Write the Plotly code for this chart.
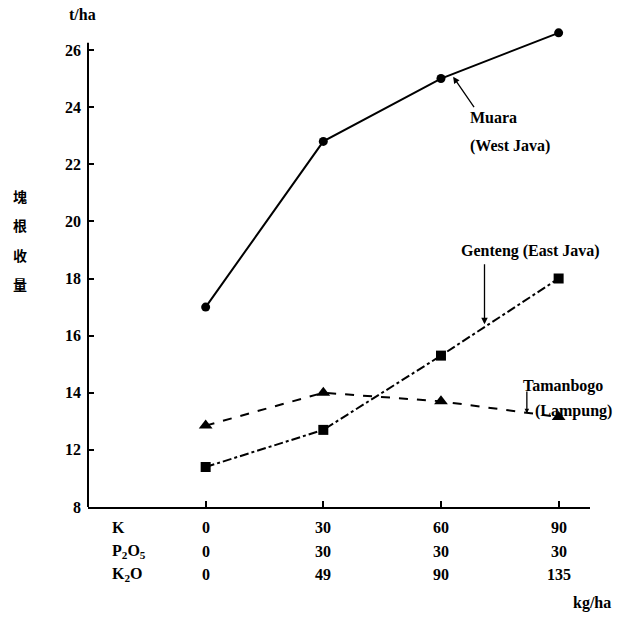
import plotly.graph_objects as go

# Data
K = [0, 30, 60, 90]
P2O5 = ["0", "30", "30", "30"]
K2O = ["0", "49", "90", "135"]
K_labels = ["0", "30", "60", "90"]
muara = [17.0, 22.8, 25.0, 26.6]
genteng = [11.4, 12.7, 15.3, 18.0]
tamanbogo = [12.85, 14.0, 13.7, 13.15]
y_tickvals = [10, 12, 14, 16, 18, 20, 22, 24, 26]
y_ticktext = ["8", "12", "14", "16", "18", "20", "22", "24", "26"]
ylabel_chars = ["塊", "根", "收", "量"]

SERIF = "Liberation Serif"
Y_TOP = 26.98   # plotting range top (room for the last Muara point)
AXIS_TOP = 26.25  # where the drawn y axis line ends
PX_PER_UNIT = 28.55
T_MARGIN = 507 - (Y_TOP - 10) * PX_PER_UNIT
PLOT_H = 507 - T_MARGIN


def b(s):
    return "<b>" + s + "</b>"


def py2paper(py):
    return (507 - py) / PLOT_H


fig = go.Figure()
fig.add_trace(go.Scatter(x=K, y=muara, mode="lines+markers",
                         line=dict(color="black", width=2),
                         marker=dict(symbol="circle", size=9, color="black")))
fig.add_trace(go.Scatter(x=K, y=genteng, mode="lines+markers",
                         line=dict(color="black", width=2, dash="dashdot"),
                         marker=dict(symbol="square", size=10, color="black")))
fig.add_trace(go.Scatter(x=K, y=tamanbogo, mode="lines+markers",
                         line=dict(color="black", width=2, dash="dash"),
                         marker=dict(symbol="triangle-up", size=12, color="black")))

ann = []


def tx(x, y, text, xref="x", yref="y", xanchor="center", size=16, family=SERIF):
    ann.append(dict(x=x, y=y, xref=xref, yref=yref, text=b(text), showarrow=False,
                    xanchor=xanchor, yanchor="middle",
                    font=dict(family=family, size=size, color="black")))


def arrow(x, y, ax, ay, size=1.0):
    ann.append(dict(x=x, y=y, ax=ax, ay=ay, xref="x", yref="y", axref="x", ayref="y",
                    text="", showarrow=True, arrowhead=2, arrowsize=size, arrowwidth=1.3,
                    arrowcolor="black"))


# table under the x axis
rows = [("K", K_labels, 527), ("P<sub>2</sub>O<sub>5</sub>", P2O5, 551),
        ("K<sub>2</sub>O", K2O, 574)]
for name, vals, rpy in rows:
    yp = py2paper(rpy)
    tx(-24.5, yp, name, yref="paper", xanchor="left")
    for xv, v in zip(K, vals):
        tx(xv, yp, v, yref="paper")
tx((592 - 88) / 502, py2paper(603), "kg/ha", xref="paper", yref="paper")
tx(-0.01, py2paper(15), "t/ha", xref="paper", yref="paper")
for i, ch in enumerate(ylabel_chars):
    tx(-0.135, py2paper(196 + i * 29.5), ch, xref="paper", yref="paper", size=14,
       family="Noto Sans CJK SC")

# series labels with arrows
tx(67.0, 23.63, "Muara", xanchor="left")
tx(67.0, 22.64, "(West Java)", xanchor="left")
arrow(63.1, 25.06, 68.7, 23.95)
tx(82.7, 18.96, "Genteng (East Java)")
arrow(71.1, 16.4, 71.1, 18.55)
tx(80.5, 14.23, "Tamanbogo", xanchor="left")
tx(83.4, 13.35, "(Lampung)", xanchor="left")
arrow(81.9, 13.28, 81.9, 14.1, size=0.7)

fig.update_layout(
    width=634, height=617,
    margin=dict(l=88, r=44, t=T_MARGIN, b=110),
    paper_bgcolor="white", plot_bgcolor="white",
    font=dict(family=SERIF, size=16, color="black"),
    showlegend=False,
    annotations=ann,
    shapes=[dict(type="line", xref="paper", yref="y", x0=0, x1=0, y0=10, y1=AXIS_TOP,
                 line=dict(color="black", width=2))],
    xaxis=dict(range=[-30, 98], tickvals=K, showticklabels=False, ticks="inside",
               ticklen=6, tickwidth=1.5, tickcolor="black", showline=True, linecolor="black",
               linewidth=2, showgrid=False, zeroline=False),
    yaxis=dict(range=[10, Y_TOP], tickvals=y_tickvals, ticktext=[b(t) for t in y_ticktext],
               ticks="inside", ticklen=6, tickwidth=1.5, tickcolor="black", showline=False,
               showgrid=False, zeroline=False, ticklabelstandoff=6,
               tickfont=dict(family=SERIF, size=16, color="black")),
)
fig.write_html("out.html")
